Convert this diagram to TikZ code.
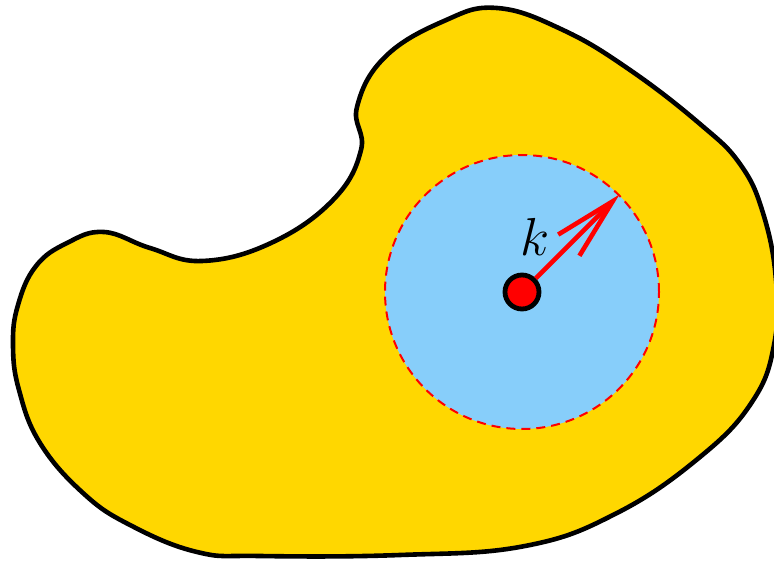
\documentclass[tikz,border=0pt]{standalone}
\usetikzlibrary{arrows.meta}
\definecolor{blobgold}{HTML}{FFD700}
\definecolor{diskblue}{HTML}{87CEFA}
\tikzset{
  blobstyle/.style={draw=black, fill=blobgold, line width=4.6pt, line join=round},
  diskstyle/.style={circle, minimum size=274pt, inner sep=0pt, fill=diskblue, draw=red, line width=2pt, dash pattern=on 9pt off 6pt},
  dotstyle/.style={circle, minimum size=34pt, inner sep=0pt, fill=red, draw=black, line width=4.8pt},
  radiusarrow/.style={draw=red, line width=4.6pt, -{Straight Barb[length=62pt, width=30pt]}},
  labelstyle/.style={inner sep=0pt, scale=2.15, font=\Huge}
}
\begin{document}
\begin{tikzpicture}[x=1pt, y=-1pt]
\useasboundingbox (0,0) rectangle (774,561);
\draw[blobstyle] plot[smooth cycle, tension=0.7] coordinates {
 (497,8) (563,30) (630,70) (700,124) (740,164) (763,213)
 (776,280) (774,345) (752,402) (700,457) (617,513)
 (525,546) (400,555) (260,556) (197,552) (130,525)
 (83,493) (40,443) (19,390) (13,345) (18,305) (36,266) (67,243) (104,232)
 (150,248) (202,261) (271,243) (333,200) (361,150)
 (357,107) (385,57) (444,21)};
\node[diskstyle] (disk) at (522,292) {};
\coordinate (tip) at (disk.45);
\node[dotstyle] (dot) at (522,292) {};
\draw[radiusarrow] (dot) -- (tip);
\node[labelstyle] (k) at (535,237) {$k$};
\end{tikzpicture}
\end{document}
